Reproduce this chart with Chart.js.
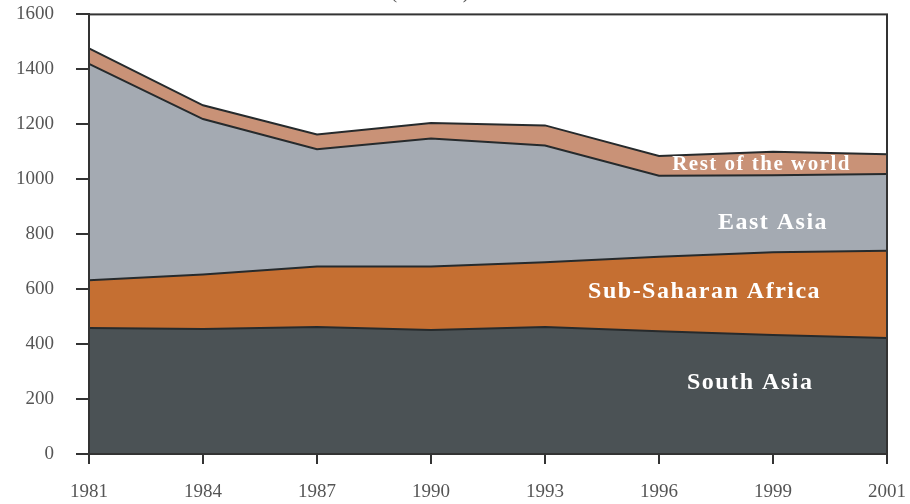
<!DOCTYPE html>
<html>
<head>
<meta charset="utf-8">
<script src="https://cdn.jsdelivr.net/npm/chart.js@4.4.1/dist/chart.umd.min.js"></script>
<style>
  html, body { margin: 0; padding: 0; background: #fff; }
  #wrap { width: 910px; height: 504px; position: relative; overflow: hidden; }
  #myChart { position: absolute; left: 0; top: -19px; }
</style>
</head>
<body>
<div id="wrap"><canvas id="myChart" width="923" height="523"></canvas></div>
<script>
// poverty headcount by region, millions
const years = ['1981', '1984', '1987', '1990', '1993', '1996', '1999', '2001'];
const southAsia = [459, 455, 462, 451, 462, 447, 433, 422];
const subSaharanAfrica = [173, 198, 220, 231, 236, 271, 301, 318];
const eastAsia = [788, 566, 427, 466, 425, 295, 281, 279];
const restOfWorld = [56, 50, 54, 57, 73, 72, 85, 72];
const yTicks = [0, 200, 400, 600, 800, 1000, 1200, 1400, 1600];

const serif = "'Liberation Serif', 'DejaVu Serif', serif";
const lineColor = '#262a2c';

// text drawn inside each band, placed through the scales
const bandLabels = [
    { text: 'South Asia', at: 5.8, value: 260, size: 24 },
    { text: 'Sub-Saharan Africa', at: 5.4, value: 590, size: 24 },
    { text: 'East Asia', at: 6.0, value: 840, size: 24 },
    { text: 'Rest of the world', at: 5.9, value: 1055, size: 21 }
];

const framePlugin = {
    id: 'frame',
    afterDatasetsDraw(chart) {
        const ctx = chart.ctx;
        const a = chart.chartArea;
        const x = chart.scales.x;
        const y = chart.scales.y;
        ctx.save();
        ctx.fillStyle = '#fff';
        ctx.textAlign = 'center';
        ctx.textBaseline = 'middle';
        bandLabels.forEach(l => {
            ctx.font = 'bold ' + l.size + 'px ' + serif;
            ctx.letterSpacing = '1.5px';
            ctx.fillText(l.text, x.getPixelForValue(l.at), y.getPixelForValue(l.value));
        });
        ctx.letterSpacing = '0px';
        ctx.strokeStyle = '#333';
        ctx.lineWidth = 2;
        ctx.strokeRect(a.left, a.top, a.right - a.left, a.bottom - a.top);
        // title sits mostly above the visible page
        ctx.fillStyle = '#555';
        ctx.font = '20px ' + serif;
        ctx.textBaseline = 'bottom';
        ctx.fillText('(millions)', 430, 22);
        ctx.restore();
    }
};

const ctx = document.getElementById('myChart').getContext('2d');
const chart = new Chart(ctx, {
    type: 'line',
    data: {
        labels: years,
        datasets: [
            { label: 'South Asia', data: southAsia, backgroundColor: '#4b5255', fill: 'origin' },
            { label: 'Sub-Saharan Africa', data: subSaharanAfrica, backgroundColor: '#c56f32', fill: '-1' },
            { label: 'East Asia', data: eastAsia, backgroundColor: '#a4aab2', fill: '-1' },
            { label: 'Rest of the world', data: restOfWorld, backgroundColor: '#c99277', fill: '-1' }
        ].map(d => Object.assign(d, {
            borderColor: lineColor,
            borderWidth: 2,
            pointRadius: 0,
            tension: 0
        }))
    },
    options: {
        responsive: false,
        animation: false,
        layout: { padding: { left: 14, right: 15, top: 10, bottom: 4 } },
        plugins: {
            legend: { display: false },
            tooltip: { enabled: false }
        },
        scales: {
            x: {
                offset: false,
                afterFit: axis => { axis.height = 46; },
                grid: { drawOnChartArea: false, drawTicks: true, tickLength: 10, color: '#333', lineWidth: 2, offset: false },
                border: { display: true, color: '#333', width: 2 },
                ticks: { autoSkip: false, maxRotation: 0, padding: 17, color: '#555', font: { family: serif, size: 19 } }
            },
            y: {
                stacked: true,
                min: 0,
                max: 1600,
                afterBuildTicks: axis => { axis.ticks = yTicks.map(v => ({ value: v })); },
                afterFit: axis => { axis.width = 75; },
                grid: { drawOnChartArea: false, drawTicks: true, tickLength: 13, color: '#333', lineWidth: 2 },
                border: { display: true, color: '#333', width: 2 },
                ticks: { padding: 22, color: '#555', font: { family: serif, size: 19 }, callback: v => String(v) }
            }
        }
    },
    plugins: [framePlugin]
});
</script>
</body>
</html>
